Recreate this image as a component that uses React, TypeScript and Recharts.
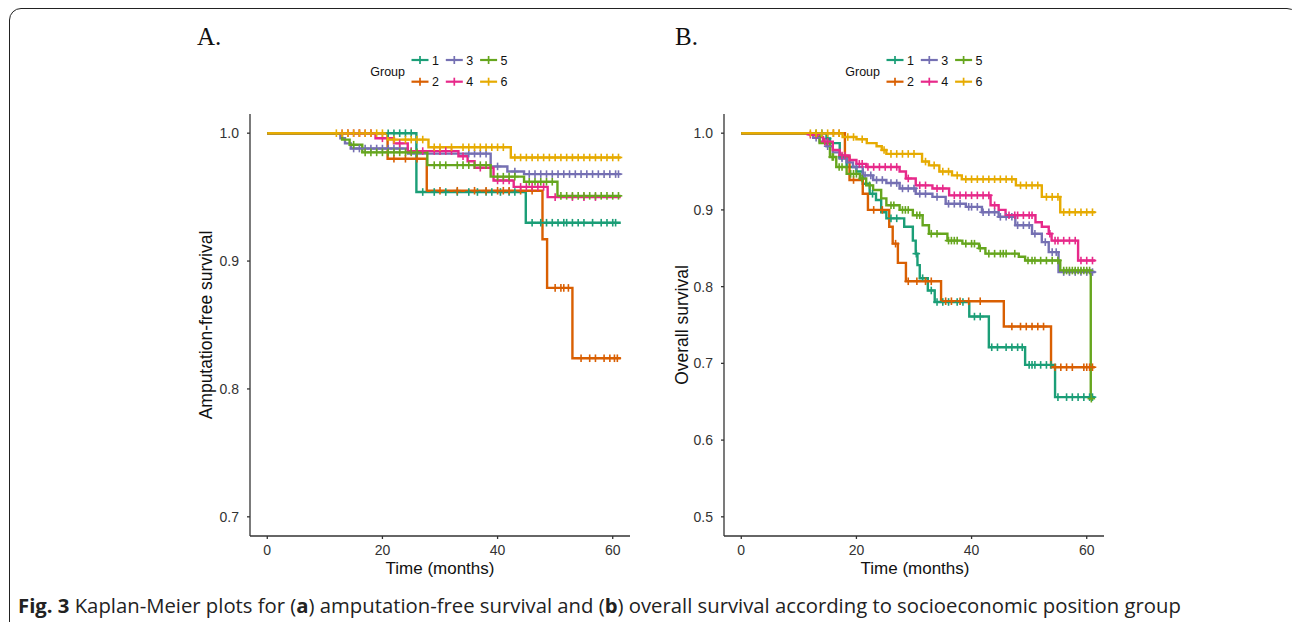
import React from "react"
import { ComposedChart, Line, Scatter, XAxis, YAxis } from "recharts"

const COLORS = ["#1B9E77", "#D95F02", "#7570B3", "#E7298A", "#66A61E", "#E6AB02"]
const GROUPS = ["1", "2", "3", "4", "5", "6"]
const TIME_TICKS = [0, 20, 40, 60]
const AFS_TICKS = [0.7, 0.8, 0.9, 1.0]
const OS_TICKS = [0.5, 0.6, 0.7, 0.8, 0.9, 1.0]

// A. amputation-free survival: step times, survival after step, censoring times
const afsTime1 = [0, 25.9, 44.9, 61.4]
const afsSurv1 = [1, 0.954, 0.93, 0.93]
const afsCens1 = [21, 22, 23, 24, 25, 27, 29, 31, 33, 35, 36.5, 38, 39, 40.5, 42, 43, 46, 47.5, 48.5, 49.5, 50.5, 51.5, 52, 53, 54, 55, 56.5, 58, 59, 60, 60.5]

const afsTime2 = [0, 20.9, 27.7, 47.8, 48.6, 53.0, 61.4]
const afsSurv2 = [1, 0.98, 0.955, 0.917, 0.879, 0.824, 0.824]
const afsCens2 = [14, 16, 18, 22, 24, 26, 30, 33, 36, 38, 40, 41, 42, 44, 46, 50, 51, 51.5, 52.3, 54.5, 56, 57, 58.5, 59.5, 60.3, 60.8]

const afsTime3 = [0, 12.7, 13.5, 14.5, 24.4, 38.8, 41.7, 44.6, 61.4]
const afsSurv3 = [1, 0.996, 0.992, 0.988, 0.984, 0.974, 0.97, 0.968, 0.968]
const afsCens3 = [15, 16, 17, 18, 19, 20, 21, 22, 23, 35, 36, 37, 38, 40, 43, 45.5, 46.5, 47.5, 48.5, 49.5, 50.5, 51.5, 52.5, 53.5, 54.5, 55.5, 56.5, 57.5, 58.5, 59.5, 60.5, 61]

const afsTime4 = [0, 18.8, 22, 24.4, 33.2, 34.8, 36, 39.3, 42.8, 48.7, 61.4]
const afsSurv4 = [1, 0.996, 0.992, 0.986, 0.982, 0.978, 0.973, 0.963, 0.958, 0.95, 0.95]
const afsCens4 = [13, 14, 15, 16, 17, 18, 20, 23, 25, 27, 29, 30, 31, 32, 34, 37, 40, 41, 42, 44, 45, 46, 47, 48, 50, 53, 55, 57]

const afsTime5 = [0, 13, 14.3, 16.5, 27.8, 38.8, 44.6, 50.4, 61.4]
const afsSurv5 = [1, 0.995, 0.991, 0.985, 0.975, 0.966, 0.962, 0.951, 0.951]
const afsCens5 = [15, 17, 18, 19, 20, 21, 22, 23, 24, 25, 26, 29, 30, 31, 33, 34, 35, 36, 37, 38, 40, 41, 42, 43, 45.5, 46.5, 47.5, 48.5, 49.5, 51, 52, 53, 54, 55, 56, 57, 58, 59, 60, 61]

const afsTime6 = [0, 20.9, 28, 42.3, 61.4]
const afsSurv6 = [1, 0.995, 0.989, 0.981, 0.981]
const afsCens6 = [12, 13, 14, 15, 16, 17, 18, 19, 20, 22, 24, 25, 26, 27, 29, 30, 32, 34, 35, 36, 37, 38, 39, 40, 41, 43, 44, 45, 46, 47, 48, 49, 50, 51, 52, 53, 54, 55, 56, 57, 58, 59, 60, 61]

// B. overall survival
const osTime1 = [0, 14.8, 15.4, 17.1, 18.3, 20.0, 21.1, 22.3, 23.4, 24.3, 25.2, 28.3, 29.8, 30.3, 30.6, 31.0, 32.4, 33.6, 39.6, 43.0, 49.3, 54.5, 61.4]
const osSurv1 = [1, 0.993, 0.987, 0.969, 0.956, 0.95, 0.934, 0.921, 0.913, 0.897, 0.889, 0.878, 0.86, 0.843, 0.828, 0.811, 0.795, 0.78, 0.761, 0.721, 0.698, 0.656, 0.656]
const osCens1 = [14, 15, 17.5, 22.8, 26, 27, 30.4, 31.5, 33, 34, 35, 36, 37.5, 38.5, 40.5, 41.5, 43.5, 44.5, 46, 47, 48, 48.8, 50, 50.5, 51, 52, 53, 53.8, 55, 56.5, 57.5, 58.5, 59.5, 60.5, 61]

const osTime2 = [0, 18.0, 18.8, 21.1, 22.0, 25.7, 26.3, 27.2, 28.6, 34.7, 45.6, 53.8, 61.4]
const osSurv2 = [1, 0.969, 0.939, 0.921, 0.9, 0.878, 0.856, 0.831, 0.807, 0.781, 0.748, 0.695, 0.695]
const osCens2 = [16, 17, 19.5, 23, 24.5, 26.8, 29, 30.5, 32, 33, 35.5, 36.5, 38, 39.5, 41.5, 47, 48.5, 49.5, 50.5, 51.5, 52.5, 54.5, 55.5, 56.5, 57.5, 59.5, 60, 60.5, 61]

const osTime3 = [0, 12.5, 13.6, 14.8, 15.9, 17.1, 18.3, 19.4, 21.1, 22.9, 25.2, 27.5, 30.3, 33.2, 35.5, 39.0, 41.8, 44.7, 47.6, 50.5, 52.2, 53.4, 55.1, 61.5]
const osSurv3 = [1, 0.994, 0.989, 0.983, 0.975, 0.967, 0.962, 0.956, 0.945, 0.939, 0.935, 0.928, 0.921, 0.917, 0.908, 0.904, 0.897, 0.891, 0.88, 0.869, 0.858, 0.845, 0.819, 0.819]
const osCens3 = [13, 15, 17.5, 20, 21.5, 22.5, 23.5, 24.5, 26, 27, 28, 29, 30, 31, 32, 34, 36, 37, 38, 39.5, 40, 41, 42, 43, 44, 45, 46, 47, 48, 49, 50, 51, 52.8, 54, 54.7, 56, 57, 58, 59, 60, 61]

const osTime4 = [0, 11.9, 13.1, 14.2, 15.9, 17.1, 18.8, 20.0, 21.7, 27.5, 28.6, 30.3, 33.2, 36.1, 43.3, 44.7, 45.9, 51.1, 52.2, 53.4, 53.9, 58.5, 61.5]
const osSurv4 = [1, 0.998, 0.995, 0.989, 0.978, 0.971, 0.965, 0.96, 0.956, 0.95, 0.941, 0.932, 0.928, 0.919, 0.906, 0.9, 0.893, 0.884, 0.878, 0.869, 0.86, 0.834, 0.834]
const osCens4 = [12, 13, 14.5, 15, 17.5, 18, 20.5, 21, 22, 23, 24, 25, 26, 27, 29, 31, 32, 34, 35, 37, 38, 39, 40, 41, 42, 43, 44, 46.5, 47.5, 48, 49, 50, 50.5, 53.6, 54.5, 55, 56, 57, 58, 59, 60, 61]

const osTime5 = [0, 13.6, 15.4, 16.5, 18.3, 20.6, 21.7, 22.9, 24.3, 25.2, 27.5, 29.8, 31.5, 32.6, 35.8, 38.4, 41.3, 42.4, 48.2, 49.3, 55.4, 60.7, 60.8]
const osSurv5 = [1, 0.987, 0.969, 0.956, 0.947, 0.941, 0.932, 0.926, 0.915, 0.906, 0.9, 0.893, 0.88, 0.869, 0.86, 0.856, 0.85, 0.843, 0.839, 0.834, 0.821, 0.654, 0.654]
const osCens5 = [13, 15.8, 16, 17, 17.5, 19, 19.5, 20, 21, 22.3, 26, 26.5, 28, 28.5, 29, 30.5, 31, 33, 34, 36, 36.5, 37, 37.5, 39, 40, 40.5, 41.5, 43, 44, 45, 45.5, 46, 47.5, 49.8, 50.5, 51, 52, 53, 54, 55, 56, 56.5, 57, 57.5, 58, 58.5, 59, 59.5, 60, 60.5, 60.8]

const osTime6 = [0, 17.6, 20.0, 21.8, 23.5, 24.4, 25.2, 31.4, 32.6, 34.4, 36.6, 38.3, 47.7, 52.2, 55.4, 61.5]
const osSurv6 = [1, 0.995, 0.992, 0.987, 0.983, 0.978, 0.973, 0.963, 0.958, 0.95, 0.945, 0.94, 0.932, 0.917, 0.897, 0.897]
const osCens6 = [12, 13, 14, 15, 16, 17, 18.5, 19.5, 21, 24.8, 26, 27, 28, 29, 30, 32, 33.5, 35, 36, 37.5, 39, 40, 41, 42, 43, 44, 45, 46, 47, 48.5, 49.5, 50.5, 51.5, 53, 54, 55, 56, 57, 58, 59, 60, 61]

const stepValue = (time: number[], surv: number[], t: number) => {
  let s = surv[0]
  for (let i = 0; i < time.length; i++) {
    if (time[i] <= t) s = surv[i]
  }
  return s
}

const buildGroup = (time: number[], surv: number[], cens: number[]) => ({
  steps: time.map((t, i) => ({ t, s: surv[i] })),
  marks: cens.map((t) => ({ t, s: stepValue(time, surv, t) })),
})

const afsGroups = [
  buildGroup(afsTime1, afsSurv1, afsCens1),
  buildGroup(afsTime2, afsSurv2, afsCens2),
  buildGroup(afsTime3, afsSurv3, afsCens3),
  buildGroup(afsTime4, afsSurv4, afsCens4),
  buildGroup(afsTime5, afsSurv5, afsCens5),
  buildGroup(afsTime6, afsSurv6, afsCens6),
]

const osGroups = [
  buildGroup(osTime1, osSurv1, osCens1),
  buildGroup(osTime2, osSurv2, osCens2),
  buildGroup(osTime3, osSurv3, osCens3),
  buildGroup(osTime4, osSurv4, osCens4),
  buildGroup(osTime5, osSurv5, osCens5),
  buildGroup(osTime6, osSurv6, osCens6),
]

const SANS = "'Liberation Sans', Arial, sans-serif"

const Plus = (props: any) => {
  const { cx, cy, color } = props
  if (cx == null || cy == null) return null
  return (
    <g>
      <line x1={cx - 3.8} x2={cx + 3.8} y1={cy} y2={cy} stroke={color} strokeWidth={1.6} />
      <line x1={cx} x2={cx} y1={cy - 3.8} y2={cy + 3.8} stroke={color} strokeWidth={1.6} />
    </g>
  )
}

const tickStyle = { fill: "#333", fontSize: 14, fontFamily: SANS }

function SurvivalPanel({ groups, left, domain, ticks }: any) {
  return (
    <div style={{ position: "absolute", left, top: 100 }}>
      <ComposedChart width={440} height={476} margin={{ top: 14, right: 0, bottom: 0, left: 0 }}>
        <XAxis
          dataKey="t"
          type="number"
          domain={[-3, 63]}
          ticks={TIME_TICKS}
          allowDataOverflow
          height={40}
          stroke="#333"
          strokeWidth={1.3}
          tickSize={3}
          tickMargin={6}
          fontSize={14}
          tick={tickStyle}
        />
        <YAxis
          dataKey="s"
          type="number"
          domain={domain}
          ticks={ticks}
          allowDataOverflow
          width={60}
          stroke="#333"
          strokeWidth={1.3}
          tickSize={3}
          tickMargin={8}
          fontSize={14}
          tickFormatter={(v: number) => v.toFixed(1)}
          tick={tickStyle}
        />
        {groups.map((g: any, i: number) => (
          <Line
            key={"l" + i}
            data={g.steps}
            dataKey="s"
            type="stepAfter"
            stroke={COLORS[i]}
            strokeWidth={2.4}
            dot={false}
            activeDot={false}
            isAnimationActive={false}
          />
        ))}
        {groups.map((g: any, i: number) => (
          <Scatter
            key={"c" + i}
            data={g.marks}
            dataKey="s"
            fill={COLORS[i]}
            shape={(p: any) => <Plus cx={p.cx} cy={p.cy} color={COLORS[i]} />}
            isAnimationActive={false}
          />
        ))}
      </ComposedChart>
    </div>
  )
}

function GroupLegend({ x }: { x: number }) {
  const cols = [0, 1, 2]
  return (
    <g fontFamily={SANS} fontSize={12.5} fill="#111">
      <text x={x} y={75.5} textAnchor="end">Group</text>
      {cols.map((c) =>
        [0, 1].map((r) => {
          const idx = c * 2 + r
          const kx = x + 15 + c * 34.3
          const ky = 60 + r * 21.7
          return (
            <g key={idx}>
              <line x1={kx - 8.5} x2={kx + 8.5} y1={ky} y2={ky} stroke={COLORS[idx]} strokeWidth={2.2} />
              <line x1={kx} x2={kx} y1={ky - 4} y2={ky + 4} stroke={COLORS[idx]} strokeWidth={1.7} />
              <text x={kx + 12} y={ky + 4.5}>{GROUPS[idx]}</text>
            </g>
          )
        })
      )}
    </g>
  )
}

export default function App() {
  return (
    <div style={{ position: "absolute", left: 0, top: 0, width: 1292, height: 622, overflow: "hidden", background: "#fff" }}>
      <div
        style={{
          position: "absolute",
          left: 9,
          top: 8,
          width: 1290,
          height: 660,
          border: "1.5px solid #222",
          borderRadius: 12,
          boxSizing: "border-box",
        }}
      />
      <svg width={1292} height={622} style={{ position: "absolute", left: 0, top: 0 }}>
        <text x={197} y={45} fontFamily="'Liberation Serif', serif" fontSize={25} fill="#111">A.</text>
        <text x={675} y={45} fontFamily="'Liberation Serif', serif" fontSize={25} fill="#111">B.</text>
        <GroupLegend x={405} />
        <GroupLegend x={880} />
        <text
          x={0}
          y={0}
          transform="translate(212 325) rotate(-90)"
          textAnchor="middle"
          fontFamily={SANS}
          fontSize={17.5}
          fill="#111"
        >
          Amputation-free survival
        </text>
        <text
          x={0}
          y={0}
          transform="translate(688 325) rotate(-90)"
          textAnchor="middle"
          fontFamily={SANS}
          fontSize={17.5}
          fill="#111"
        >
          Overall survival
        </text>
        <text x={440} y={574} textAnchor="middle" fontFamily={SANS} fontSize={17} fill="#111">Time (months)</text>
        <text x={915} y={574} textAnchor="middle" fontFamily={SANS} fontSize={17} fill="#111">Time (months)</text>
        <text x={18} y={613} fontFamily="'Open Sans', sans-serif" fontSize={20.3} fill="#222">
          <tspan fontWeight="bold">Fig. 3</tspan> Kaplan-Meier plots for (<tspan fontWeight="bold">a</tspan>) amputation-free survival and (<tspan fontWeight="bold">b</tspan>) overall survival according to socioeconomic position group
        </text>
      </svg>
      <SurvivalPanel groups={afsGroups} left={190} domain={[0.685, 1.015]} ticks={AFS_TICKS} />
      <SurvivalPanel groups={osGroups} left={664} domain={[0.475, 1.025]} ticks={OS_TICKS} />
    </div>
  )
}
